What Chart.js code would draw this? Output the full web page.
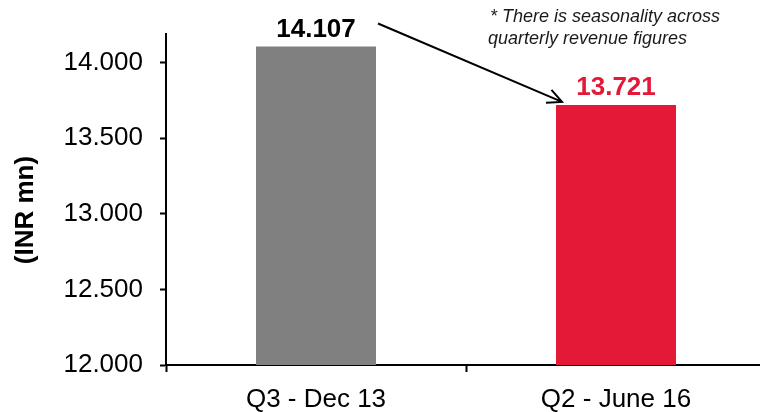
<!DOCTYPE html>
<html>
<head>
<meta charset="utf-8">
<script src="https://cdn.jsdelivr.net/npm/chart.js@4/dist/chart.umd.min.js"></script>
<style>
  body { margin: 0; overflow: hidden; background: #fff; }
  #wrap { position: absolute; left: 0; top: 0; }
</style>
</head>
<body>
<div id="wrap"><canvas id="revChart" width="772" height="412"></canvas></div>
<script>
// chart data
var quarters = ['Q3 - Dec 13', 'Q2 - June 16'];
var revenue = [14107, 13721];
var barColors = ['#808080', '#E31937'];
var labelColors = ['#000000', '#E31937'];
var yTicks = [12000, 12500, 13000, 13500, 14000];
var axisTitle = '(INR mn)';
var noteLines = ['* There is seasonality across', 'quarterly revenue figures'];

var FONT = "'Liberation Sans', Arial, sans-serif";

// 14000 -> "14.000"
function fmt(v){
    var th = Math.floor(v / 1000);
    var rest = String(v % 1000);
    while (rest.length < 3) rest = '0' + rest;
    return th + '.' + rest;
}

var extras = {
    id: 'extras',
    afterDatasetsDraw: function(chart){
        var ctx = chart.ctx;
        var bars = chart.getDatasetMeta(0).data;
        ctx.save();

        // value labels over the bars
        ctx.font = 'bold 26px ' + FONT;
        ctx.textAlign = 'center';
        ctx.textBaseline = 'alphabetic';
        bars.forEach(function(b, i){
            ctx.fillStyle = labelColors[i];
            ctx.fillText(fmt(revenue[i]), b.x, b.y - 10);
        });

        // y axis title
        ctx.save();
        ctx.translate(26, 210);
        ctx.rotate(-Math.PI / 2);
        ctx.fillStyle = '#000';
        ctx.font = 'bold 26px ' + FONT;
        ctx.textAlign = 'center';
        ctx.textBaseline = 'middle';
        ctx.fillText(axisTitle, 0, 0);
        ctx.restore();

        // note
        ctx.font = 'italic 18px ' + FONT;
        ctx.textAlign = 'left';
        ctx.fillStyle = '#1a1a1a';
        ctx.fillText(noteLines[0], 490, 22);
        ctx.fillText(noteLines[1], 488, 44);

        // arrow from first label to second bar
        var x1 = bars[0].x + 62, y1 = bars[0].y - 23;
        var x2 = bars[1].x - 54, y2 = bars[1].y - 3;
        var ang = Math.atan2(y2 - y1, x2 - x1);
        ctx.strokeStyle = '#000';
        ctx.lineWidth = 2;
        ctx.beginPath();
        ctx.moveTo(x1, y1);
        ctx.lineTo(x2, y2);
        ctx.moveTo(x2 - 16 * Math.cos(ang - 0.45), y2 - 16 * Math.sin(ang - 0.45));
        ctx.lineTo(x2, y2);
        ctx.lineTo(x2 - 16 * Math.cos(ang + 0.45), y2 - 16 * Math.sin(ang + 0.45));
        ctx.stroke();

        ctx.restore();
    }
};

var revChart = new Chart(document.getElementById('revChart').getContext('2d'), {
    type: 'bar',
    data: {
        labels: quarters,
        datasets: [{
            data: revenue,
            backgroundColor: barColors,
            barPercentage: 0.4,
            categoryPercentage: 1.0
        }]
    },
    options: {
        responsive: false,
        animation: false,
        layout: { padding: { left: 0, top: 34, right: 6, bottom: 0 } },
        plugins: {
            legend: { display: false },
            tooltip: { enabled: false }
        },
        scales: {
            x: {
                grid: {
                    display: true,
                    offset: true,
                    drawOnChartArea: false,
                    drawTicks: true,
                    tickLength: 7,
                    tickWidth: 2,
                    tickColor: '#000'
                },
                border: { color: '#000', width: 2 },
                ticks: {
                    color: '#000',
                    font: { family: FONT, size: 26 },
                    padding: 12,
                    maxRotation: 0
                },
                afterFit: function(s){ s.height = 47; }
            },
            y: {
                min: 12000,
                max: 14190,
                grid: {
                    display: true,
                    drawOnChartArea: false,
                    drawTicks: true,
                    tickLength: 6,
                    tickWidth: 2,
                    tickColor: '#000'
                },
                border: { color: '#000', width: 2 },
                ticks: {
                    color: '#000',
                    font: { family: FONT, size: 26 },
                    padding: 17,
                    callback: function(v){ return fmt(v); }
                },
                afterBuildTicks: function(s){
                    s.ticks = yTicks.map(function(v){ return { value: v }; });
                },
                afterFit: function(s){ s.width = 166; }
            }
        }
    },
    plugins: [extras]
});
</script>
</body>
</html>
